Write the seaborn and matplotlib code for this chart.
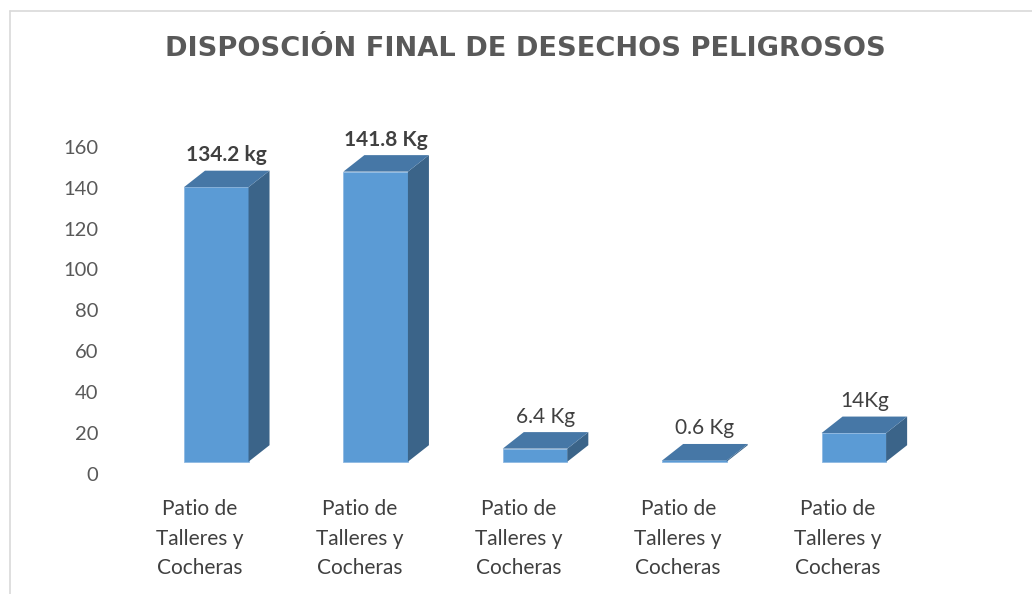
import numpy as np
import pandas as pd
import matplotlib
matplotlib.use("Agg")
import matplotlib.pyplot as plt
import matplotlib.transforms as mtransforms
from matplotlib.patches import Polygon
from matplotlib.lines import Line2D
import seaborn as sns

# data
categories = ["Patio de\nTalleres y\nCocheras"] * 5
values = [134.2, 141.8, 6.4, 0.6, 14.0]
value_labels = ["134.2 kg", "141.8 Kg", "6.4 Kg", "0.6 Kg", "14Kg"]
label_bold = [True, True, False, False, False]
title = "DISPOSCIÓN FINAL DE DESECHOS PELIGROSOS"
y_ticks = [0, 20, 40, 60, 80, 100, 120, 140, 160]

# colours of the Excel 3D column
front_col = "#5b9bd5"
top_col = "#4677a6"
side_col = "#3b6489"
text_col = "#404040"
axis_col = "#595959"

sns.set_theme(style="white")
plt.rcParams["font.family"] = ["Lato", "DejaVu Sans"]

W, H, DPI = 1032, 594, 100
fig = plt.figure(figsize=(W / DPI, H / DPI), dpi=DPI)
fig.patch.set_facecolor("white")

# axes placed so the ticks land where the reference has them
ax = fig.add_axes([120.3 / W, (H - 474) / H, 797 / W, 327.3 / H])

df = pd.DataFrame({"pos": [str(i) for i in range(len(values))], "kg": values})
sns.barplot(data=df, x="pos", y="kg", color=front_col, saturation=1,
            width=0.405, ax=ax, edgecolor="#8fb9e3", linewidth=0.6)

ax.set_xlim(-0.5, len(values) - 0.5)
ax.set_ylim(0, 160)
ax.set_yticks(y_ticks)
ax.set_xticks(range(len(values)))
ax.set_xticklabels(categories, linespacing=1.6)
ax.set_xlabel("")
ax.set_ylabel("")
sns.despine(ax=ax, left=True, bottom=True)
ax.tick_params(axis="y", length=0, pad=16, labelsize=14.5, labelcolor=axis_col)
ax.tick_params(axis="x", length=0, pad=18, labelsize=15, labelcolor=text_col)
ax.grid(False)

# pixel geometry of the fake 3D look
fig.canvas.draw()
px_per_x = ax.transData.transform((1, 0))[0] - ax.transData.transform((0, 0))[0]
px_per_y = ax.transData.transform((0, 1))[1] - ax.transData.transform((0, 0))[1]
depth_dx, depth_dy = 21 / px_per_x, 16.5 / px_per_y
shift = mtransforms.ScaledTranslation(16.25 / DPI, 12.3 / DPI, fig.dpi_scale_trans)
tr = ax.transData + shift

for i, bar in enumerate(ax.patches[:len(values)]):
    bar.set_transform(tr)
    bar.set_clip_on(False)
    x0 = bar.get_x()
    x1 = x0 + bar.get_width()
    h = bar.get_height()
    side = Polygon([(x1, 0), (x1 + depth_dx, depth_dy), (x1 + depth_dx, h + depth_dy), (x1, h)],
                   closed=True, facecolor=side_col, edgecolor="none", transform=tr, clip_on=False)
    top = Polygon([(x0, h), (x1, h), (x1 + depth_dx, h + depth_dy), (x0 + depth_dx, h + depth_dy)],
                  closed=True, facecolor=top_col, edgecolor="none", transform=tr, clip_on=False)
    ax.add_patch(side)
    ax.add_patch(top)
    ax.annotate(value_labels[i], xy=((x0 + x1) / 2 + depth_dx / 2, h + depth_dy), xycoords=tr,
                xytext=(0, 4), textcoords="offset points", ha="center", va="bottom",
                fontsize=15, color=text_col,
                fontweight="bold" if label_bold[i] else "normal", annotation_clip=False)

fig.text(525 / W, 1 - 49 / H, title, ha="center", va="center",
         fontsize=19.6, fontweight="bold", color=axis_col, family=["DejaVu Sans"])

# chart border (only top and left edge visible in the crop)
fig.add_artist(Line2D([9.5 / W, 1], [1 - 10.5 / H, 1 - 10.5 / H], color="#d9d9d9", lw=1.2))
fig.add_artist(Line2D([9.5 / W, 9.5 / W], [0, 1 - 10.5 / H], color="#d9d9d9", lw=1.2))

fig.savefig("out.png", dpi=DPI)
